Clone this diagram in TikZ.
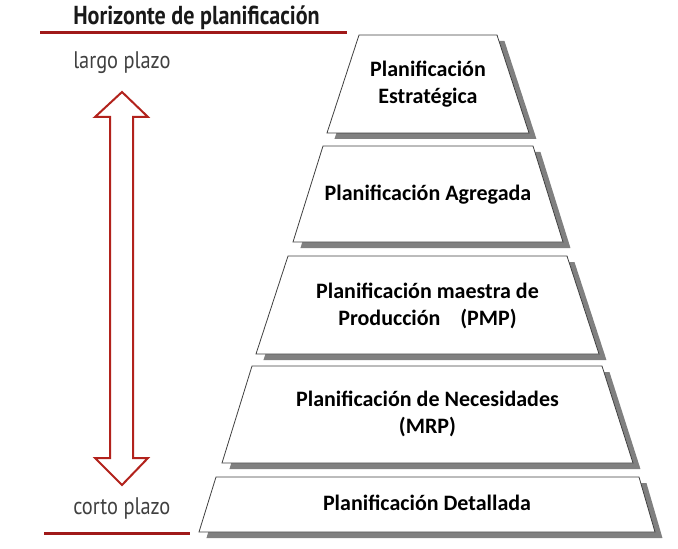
\documentclass[tikz,border=0pt]{standalone}
\usepackage{fontspec}
\setmainfont{Carlito}
\newfontfamily\sidefont[FakeStretch=0.85]{PT Sans}
\usetikzlibrary{shadows}
\usetikzlibrary{positioning}
\definecolor{horizred}{RGB}{160,25,25}
\definecolor{arrowred}{RGB}{178,34,28}
\tikzset{
  tierbox/.style={draw=black!75, line width=0.6pt, fill=white, line join=miter,
    drop shadow={shadow xshift=5.6pt, shadow yshift=-4.5pt, fill=black!50, opacity=1}},
  tiertext/.style={align=center, inner sep=0pt, font=\fontsize{16.5}{20}\selectfont\bfseries},
  sidelabel/.style={font=\sidefont\fontsize{18}{20}\selectfont, text=black!75, anchor=base west, inner sep=0pt}
}

\begin{document}
\begin{tikzpicture}[x=0.75pt,y=-0.75pt]
\useasboundingbox (0,0) rectangle (678,549);

\draw[tierbox] (359,35) -- (497,35) -- (529,133) -- (327,133) -- cycle;
\node[tiertext] (estrat) at (428,84) {Planificación\\Estratégica};
\draw[tierbox] (323,146) -- (533,146) -- (563,242) -- (293,242) -- cycle;
\node[tiertext] (agreg) at (428,195) {Planificación Agregada};
\draw[tierbox] (288,256) -- (567,256) -- (599,354) -- (256,354) -- cycle;
\node[tiertext] (pmp) at (427.5,306) {Planificación maestra de\\Producción\hspace{0.9em}(PMP)};
\draw[tierbox] (252,366) -- (602,366) -- (633,463) -- (222,463) -- cycle;
\node[tiertext] (mrp) at (427.5,414) {Planificación de Necesidades\\(MRP)};
\draw[tierbox] (216,477) -- (639,477) -- (655,532) -- (199,532) -- cycle;
\node[tiertext] (detall) at (427,503) {Planificación Detallada};

\node[sidelabel, font=\sidefont\bfseries\fontsize{19.5}{22}\selectfont, text=black!90] (horiz) at (73,25) {Horizonte de planificación};
\draw[horizred, line width=2.25pt] (40,33) -- (347,33);
\node[sidelabel] (largo) at (73,69) {largo plazo};
\node[sidelabel] (corto) at (73,514) {corto plazo};
\draw[horizred, line width=2.25pt] (44,533) -- (190,533);

\draw[arrowred, line width=1.5pt, line join=miter] (122,92) -- (148,117) -- (133,117) -- (133,458) -- (148,458) -- (122,485)
  -- (95,458) -- (110,458) -- (110,117) -- (95,117) -- cycle;

\end{tikzpicture}
\end{document}
